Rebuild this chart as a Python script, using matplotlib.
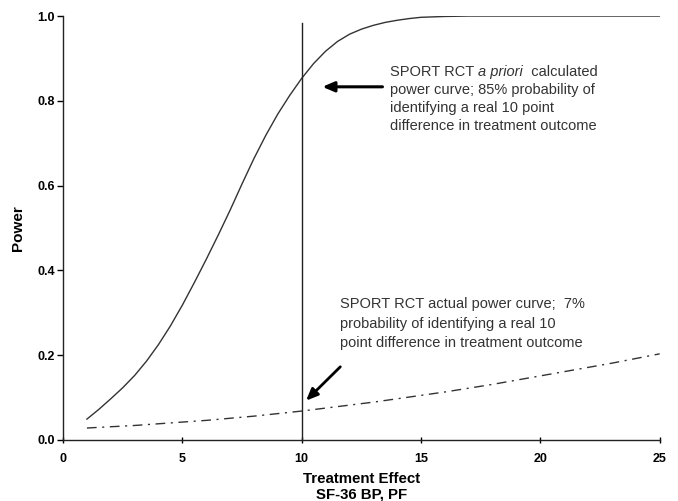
import matplotlib
matplotlib.use("Agg")
import matplotlib.pyplot as plt

plt.rcParams['font.family'] = ['Liberation Sans', 'DejaVu Sans']

effect_apriori = [1, 1.5, 2, 2.5, 3, 3.5, 4, 4.5, 5, 5.5, 6, 6.5, 7, 7.5, 8, 8.5, 9, 9.5,
                  10, 10.5, 11, 11.5, 12, 12.5, 13, 13.5, 14, 14.5, 15, 16, 17, 18, 19,
                  20, 21, 22, 23, 24, 25]
power_apriori = [0.049, 0.072, 0.097, 0.123, 0.152, 0.186, 0.225, 0.269, 0.318, 0.371,
                 0.426, 0.483, 0.542, 0.604, 0.664, 0.719, 0.769, 0.813, 0.853, 0.888,
                 0.917, 0.94, 0.957, 0.969, 0.978, 0.985, 0.99, 0.994, 0.997, 0.999,
                 1.0, 1.0, 1.0, 1.0, 1.0, 1.0, 1.0, 1.0, 1.0]
effect_actual = list(range(1, 26))
power_actual = [0.028, 0.031, 0.034, 0.038, 0.042, 0.046, 0.051, 0.056, 0.062, 0.068,
                0.075, 0.082, 0.089, 0.097, 0.105, 0.113, 0.122, 0.131, 0.141, 0.151,
                0.161, 0.171, 0.181, 0.192, 0.203]
xticks = [0, 5, 10, 15, 20, 25]
yticks = [0.0, 0.2, 0.4, 0.6, 0.8, 1.0]
ref_effect = 10

fig = plt.figure(figsize=(6.78, 5.01), dpi=100)
ax = fig.add_axes([0.093, 0.122, 0.88, 0.846])

ax.plot(effect_apriori, power_apriori, color='#333333', lw=1.0)
ax.plot(effect_actual, power_actual, color='#333333', lw=1.0, linestyle=(0, (7, 4, 1.5, 4)))
ax.plot([ref_effect, ref_effect], [0, 0.983], color='#222222', lw=1.0)

ax.set_xlim(0, 25)
ax.set_ylim(0, 1.0)
ax.set_xticks(xticks)
ax.set_yticks(yticks)
ax.set_xticklabels([str(t) for t in xticks], fontweight='bold', fontsize=9)
ax.set_yticklabels([f"{t:.1f}" for t in yticks], fontweight='bold', fontsize=9)
ax.tick_params(axis='y', direction='out', length=4, width=1, pad=2)
ax.tick_params(axis='x', direction='inout', length=5, width=1, pad=7)
for s in ['top', 'right']:
    ax.spines[s].set_visible(False)
for s in ['left', 'bottom']:
    ax.spines[s].set_linewidth(1.0)
    ax.spines[s].set_color('#222222')

ax.set_ylabel('Power', fontweight='bold', fontsize=11)
ax.yaxis.set_label_coords(-0.063, 0.5)
ax.set_xlabel('Treatment Effect\nSF-36 BP, PF', fontweight='bold', fontsize=10.8,
              labelpad=5, linespacing=1.15)

tc = '#333333'
fs = 10.5
# annotation 1 with italic "a priori"
t1 = ax.text(13.69, 0.858, 'SPORT RCT ', fontsize=fs, color=tc, va='baseline', ha='left')
t2 = ax.annotate('a priori', xycoords=t1, xy=(1, 0), va='bottom', ha='left',
                 fontsize=fs, color=tc, style='italic')
ax.annotate('  calculated', xycoords=t2, xy=(1, 0), va='bottom', ha='left',
            fontsize=fs, color=tc)
lines1 = ['power curve; 85% probability of', 'identifying a real 10 point',
          'difference in treatment outcome']
y1 = [0.816, 0.774, 0.731]
for s, y in zip(lines1, y1):
    ax.text(13.69, y, s, fontsize=fs, color=tc, va='baseline', ha='left')

lines2 = ['SPORT RCT actual power curve;  7%', 'probability of identifying a real 10',
          'point difference in treatment outcome']
y2 = [0.311, 0.264, 0.219]
for s, y in zip(lines2, y2):
    ax.text(11.6, y, s, fontsize=fs, color=tc, va='baseline', ha='left')

ax.annotate('', xy=(10.75, 0.833), xytext=(13.5, 0.833),
            arrowprops=dict(arrowstyle='-|>,head_length=0.7,head_width=0.3', color='black', lw=2.2))
ax.annotate('', xy=(10.1, 0.088), xytext=(11.7, 0.177),
            arrowprops=dict(arrowstyle='-|>,head_length=0.7,head_width=0.3', color='black', lw=2.0))

fig.savefig('out.png', dpi=100)
